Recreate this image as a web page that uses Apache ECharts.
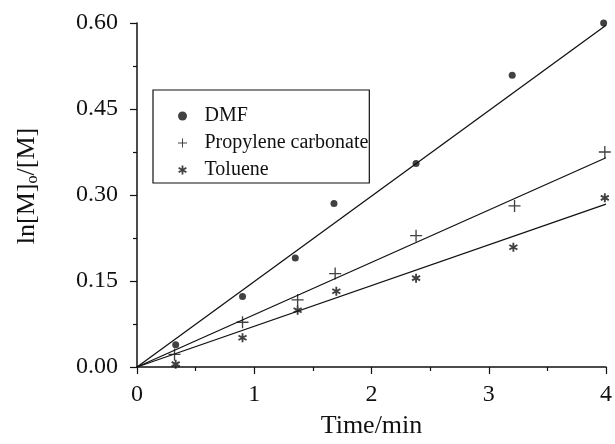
<!DOCTYPE html>
<html>
<head>
<meta charset="utf-8">
<script src="https://cdn.jsdelivr.net/npm/echarts@6/dist/echarts.min.js"></script>
<style>
html,body{margin:0;padding:0;background:#fff;}
#chart{width:615px;height:444px;}
</style>
</head>
<body>
<div id="chart"></div>
<script>
// ---- data ----
var seriesNames = ['DMF', 'Propylene carbonate', 'Toluene'];
var dmfX = [0.33, 0.90, 1.35, 1.68, 2.38, 3.20, 3.98];
var dmfY = [0.039, 0.123, 0.190, 0.285, 0.355, 0.509, 0.600];
var pcX = [0.32, 0.90, 1.37, 1.69, 2.38, 3.22, 3.99];
var pcY = [0.022, 0.078, 0.117, 0.163, 0.229, 0.281, 0.375];
var tolX = [0.33, 0.90, 1.37, 1.70, 2.38, 3.21, 3.99];
var tolY = [0.005, 0.051, 0.099, 0.132, 0.155, 0.209, 0.295];
// fitted lines (start/end values)
var fitX = [0, 4];
var dmfFitY = [0, 0.596];
var pcFitY = [0, 0.365];
var tolFitY = [0, 0.284];
var xTicks = [0, 1, 2, 3, 4];
var yTicks = [0.00, 0.15, 0.30, 0.45, 0.60];

function pairs(xs, ys) { return xs.map(function (x, i) { return [x, ys[i]]; }); }

var plusPath = 'path://M-0.55,-5 L0.55,-5 L0.55,-0.55 L5,-0.55 L5,0.55 L0.55,0.55 L0.55,5 L-0.55,5 L-0.55,0.55 L-5,0.55 L-5,-0.55 L-0.55,-0.55 Z';
// asterisk: three bars (vertical and +-60 deg), wound the same way
var starPath = 'path://M-2,-10 L2,-10 L2,10 L-2,10 Z ' +
  'M7.66,6.73 L-9.66,-3.27 L-7.66,-6.73 L9.66,3.27 Z ' +
  'M-9.66,3.27 L7.66,-6.73 L9.66,-3.27 L-7.66,6.73 Z';

var font = 'Liberation Serif';
var chart = echarts.init(document.getElementById('chart'), null, {renderer: 'canvas'});

var lineStyle = {color: '#111', width: 1.3};
function fitSeries(ys) {
  return {type: 'line', data: pairs(fitX, ys), symbol: 'none', lineStyle: lineStyle, silent: true, z: 1, animation: false};
}

chart.setOption({
  animation: false,
  backgroundColor: '#fff',
  grid: {left: 137, top: 23, width: 471, height: 350, containLabel: false},
  legend: {
    data: seriesNames,
    orient: 'vertical',
    left: 153, top: 90,
    padding: [16, 1, 3, 25],
    itemWidth: 34, itemHeight: 9, itemGap: 7,
    borderColor: '#111', borderWidth: 1.2,
    textStyle: {fontFamily: font, fontSize: 20, color: '#111'},
    selectedMode: false
  },
  xAxis: {
    type: 'value', min: 0, max: 4, interval: 1,
    name: 'Time/min', nameLocation: 'middle', nameGap: 46,
    nameTextStyle: {fontFamily: font, fontSize: 26, color: '#111'},
    axisLine: {lineStyle: {color: '#111', width: 1.5}},
    axisTick: {length: 7, lineStyle: {color: '#111', width: 1.2}},
    minorTick: {show: true, splitNumber: 2, length: 4, lineStyle: {color: '#111', width: 1.2}},
    axisLabel: {fontFamily: font, fontSize: 24, color: '#111', margin: 16,
      formatter: function (v) { return xTicks.indexOf(v) >= 0 ? String(v) : ''; }},
    splitLine: {show: false}
  },
  yAxis: {
    type: 'value', min: 0, max: 0.6, interval: 0.15,
    name: 'ln[M]{sub|o}/[M]', nameLocation: 'middle', nameGap: 97, nameRotate: 90,
    nameTextStyle: {fontFamily: font, fontSize: 26, color: '#111', padding: [0, 0, 0, 18],
      rich: {sub: {fontFamily: font, fontSize: 16, color: '#111', padding: [0, 0, -12, 0]}}},
    axisLine: {show: true, lineStyle: {color: '#111', width: 1.5}},
    axisTick: {show: true, length: 7, lineStyle: {color: '#111', width: 1.2}},
    minorTick: {show: true, splitNumber: 2, length: 4, lineStyle: {color: '#111', width: 1.2}},
    axisLabel: {fontFamily: font, fontSize: 24, color: '#111', margin: 19,
      formatter: function (v) { return v.toFixed(2); }},
    splitLine: {show: false}
  },
  series: [
    {name: seriesNames[0], type: 'scatter', data: pairs(dmfX, dmfY), symbol: 'circle', symbolSize: 7,
      itemStyle: {color: '#111'}, z: 3},
    {name: seriesNames[1], type: 'scatter', data: pairs(pcX, pcY), symbol: plusPath, symbolSize: 12,
      itemStyle: {color: '#111'}, z: 3},
    {name: seriesNames[2], type: 'scatter', data: pairs(tolX, tolY), symbol: starPath, symbolSize: [9, 9],
      itemStyle: {color: '#111'}, z: 3},
    fitSeries(dmfFitY),
    fitSeries(pcFitY),
    fitSeries(tolFitY)
  ]
});
</script>
</body>
</html>
